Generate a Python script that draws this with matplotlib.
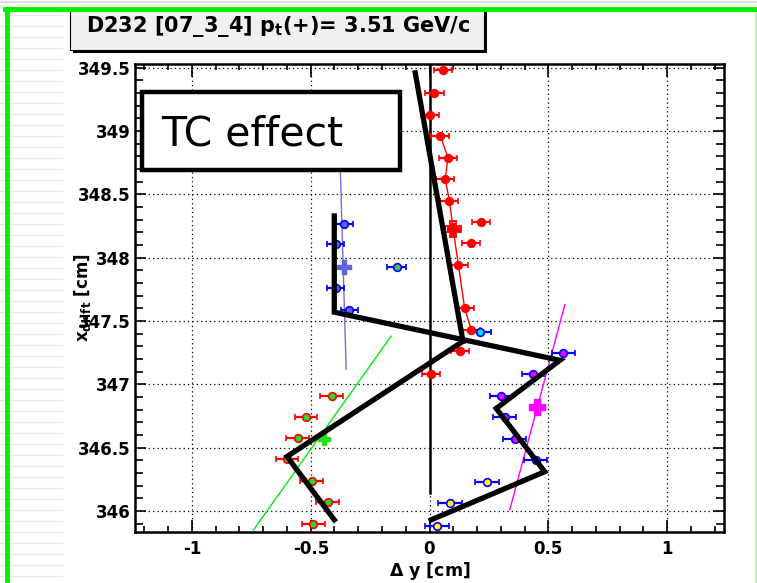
import matplotlib.pyplot as plt
from matplotlib.lines import Line2D
from matplotlib.patches import Rectangle
from matplotlib.ticker import MultipleLocator

# hits: delta y [cm] vs x_drift [cm]
red_dy = [0.056, 0.021, 0.004, 0.046, 0.078, 0.066, 0.084, 0.215, 0.176, 0.122, 0.148, 0.176, 0.127, 0.007]
red_xd = [349.48, 349.30, 349.13, 348.96, 348.79, 348.62, 348.45, 348.28, 348.12, 347.94, 347.60, 347.43, 347.26, 347.08]
red_chain_dy = [0.046, 0.078, 0.066, 0.084, 0.099, 0.122, 0.148, 0.176]
red_chain_xd = [348.96, 348.79, 348.62, 348.45, 348.23, 347.94, 347.60, 347.43]
red_mean = (0.099, 348.23)

cyan_dy = [0.214]
cyan_xd = [347.41]

magenta_dy = [0.563, 0.436, 0.302, 0.316, 0.359, 0.447]
magenta_xd = [347.25, 347.08, 346.91, 346.74, 346.57, 346.40]
magenta_mean = (0.452, 346.82)
magenta_fit_dy = [0.338, 0.570]
magenta_fit_xd = [346.01, 347.63]

yellow_dy = [0.241, 0.087, 0.032]
yellow_xd = [346.23, 346.06, 345.88]

green_dy = [-0.412, -0.520, -0.555, -0.600, -0.496, -0.429, -0.490]
green_xd = [346.91, 346.74, 346.58, 346.41, 346.24, 346.07, 345.90]
green_mean = (-0.443, 346.57)
green_fit_dy = [-0.741, -0.162]
green_fit_xd = [345.85, 347.38]

blue_dy = [-0.359, -0.394, -0.394, -0.338]
blue_xd = [348.27, 348.11, 347.76, 347.59]
blue_mean = (-0.361, 347.93)
blue_fit_dy = [-0.376, -0.351]
blue_fit_xd = [348.73, 347.12]
stray_dy = [-0.138]
stray_xd = [347.93]

zero_dy = [0.0, 0.0]
zero_xd = [349.53, 346.14]

# hand-drawn sketch over the plot
sketch_a_dy = [-0.060, 0.141]
sketch_a_xd = [349.46, 347.34]
sketch_b_dy = [-0.401, -0.401, 0.549, 0.281, 0.485, 0.007]
sketch_b_xd = [348.33, 347.57, 347.19, 346.81, 346.31, 345.93]
sketch_c_dy = [-0.401, -0.600, 0.141]
sketch_c_xd = [345.93, 346.43, 347.34]

W, H = 757, 583


def fx(px):
    return px / W


def fy(py):
    return 1 - py / H


plt.rcParams['font.family'] = 'DejaVu Sans'
fig = plt.figure(figsize=(W / 100, H / 100), dpi=100)
fig.patch.set_facecolor('white')

# page decorations
for y in range(15, H, 11):
    fig.add_artist(Line2D([fx(0), fx(62)], [fy(y), fy(y)], color='#e8e8e8', lw=1.0))
fig.add_artist(Line2D([0, 1], [fy(1.5), fy(1.5)], color='#dddddd', lw=1.5))
fig.add_artist(Line2D([fx(7), fx(7)], [fy(9), 0], color='#00ee00', lw=3.5, zorder=10))
fig.add_artist(Line2D([fx(5), 1], [fy(9), fy(9)], color='#00ee00', lw=3.5, zorder=10))
fig.add_artist(Line2D([fx(755.5), fx(755.5)], [fy(9), 0], color='#a8f0a8', lw=1.2))

ax = fig.add_axes([fx(135), fy(532), fx(724) - fx(135), fy(64) - fy(532)])
ax.set_xlim(-1.24, 1.24)
ax.set_ylim(345.834, 349.53)

ax.xaxis.set_minor_locator(MultipleLocator(0.1))
ax.yaxis.set_minor_locator(MultipleLocator(0.1))
ax.set_xticks([-1, -0.5, 0, 0.5, 1])
ax.set_xticklabels(['-1', '-0.5', '0', '0.5', '1'])
ax.set_yticks([346, 346.5, 347, 347.5, 348, 348.5, 349, 349.5])
ax.set_yticklabels(['346', '346.5', '347', '347.5', '348', '348.5', '349', '349.5'])
ax.tick_params(which='both', direction='in', top=True, right=True, width=1.2)
ax.tick_params(axis='x', which='major', length=9, labelsize=12, pad=6)
ax.tick_params(axis='x', which='minor', length=4.5)
ax.tick_params(axis='y', which='major', length=8, labelsize=12, pad=3)
ax.tick_params(axis='y', which='minor', length=6)
for lab in ax.get_xticklabels() + ax.get_yticklabels():
    lab.set_fontweight('bold')
for s in ax.spines.values():
    s.set_linewidth(1.8)
ax.grid(True, which='major', color='black', linestyle=(0, (1, 2.5)), lw=0.9)
ax.set_axisbelow(True)

ax.set_xlabel(r'$\mathbf{\Delta}$ y [cm]', fontsize=12.5, fontweight='bold', labelpad=1)
ax.set_ylabel(r'x$_{\mathbf{drift}}$ [cm]', fontsize=12, fontweight='bold')
ax.yaxis.set_label_coords(-0.072, 0.5)

# fitted lines
ax.plot(blue_fit_dy, blue_fit_xd, color='#7070dd', lw=1.0, zorder=2)
ax.plot(green_fit_dy, green_fit_xd, color='#00ee00', lw=1.0, zorder=2)
ax.plot(magenta_fit_dy, magenta_fit_xd, color='#ff00ff', lw=1.0, zorder=2)
ax.plot(red_chain_dy, red_chain_xd, color='red', lw=1.0, zorder=2)
ax.plot(zero_dy, zero_xd, color='black', lw=1.8, zorder=2)

eb = dict(fmt='o', ms=5.5, elinewidth=1.6, capsize=2.5, capthick=1.6, mew=1.2, zorder=4)
ax.errorbar(red_dy, red_xd, xerr=0.038, mfc='red', mec='red', ecolor='red', **eb)
ax.errorbar(blue_dy, blue_xd, xerr=0.036, mfc='#6060d8', mec='blue', ecolor='blue', **eb)
ax.errorbar(stray_dy, stray_xd, xerr=0.04, mfc='#44cc44', mec='blue', ecolor='blue', **eb)
ax.errorbar(cyan_dy, cyan_xd, xerr=0.045, mfc='#00e0f0', mec='blue', ecolor='blue', **eb)
ax.errorbar(magenta_dy, magenta_xd, xerr=0.048, mfc='#ff00ff', mec='blue', ecolor='blue', **eb)
ax.errorbar(yellow_dy, yellow_xd, xerr=0.05, mfc='#ffff00', mec='blue', ecolor='blue', **eb)
ax.errorbar(green_dy, green_xd, xerr=0.048, mfc='#22dd22', mec='red', ecolor='red', **eb)

# segment means
ax.plot(*red_mean, marker='P', ms=12, mfc='none', mec='red', mew=1.3, zorder=5)
ax.plot(*red_mean, marker='P', ms=8, mfc='red', mec='red', zorder=5)
ax.plot(*blue_mean, marker='P', ms=10, mfc='#6060d8', mec='#6060d8', zorder=5)
ax.plot(*green_mean, marker='P', ms=9, mfc='#22dd22', mec='#22dd22', zorder=5)
ax.plot(*magenta_mean, marker='P', ms=11, mfc='#ff00ff', mec='#ff00ff', zorder=5)

# sketch
for sx, sy in [(sketch_a_dy, sketch_a_xd), (sketch_b_dy, sketch_b_xd), (sketch_c_dy, sketch_c_xd)]:
    ax.plot(sx, sy, color='black', lw=3.8, solid_joinstyle='miter', zorder=6)

# annotation box
fig.add_artist(Rectangle((fx(142), fy(170)), fx(400) - fx(142), fy(92) - fy(170),
                         facecolor='white', edgecolor='black', lw=3.2, zorder=7))
fig.text(fx(161), fy(145), 'TC effect', fontsize=29.5, va='baseline', ha='left', zorder=8)

# title box
fig.add_artist(Rectangle((fx(73), fy(53)), fx(487) - fx(73), fy(11) - fy(53),
                         facecolor='black', edgecolor='none', zorder=7))
fig.add_artist(Rectangle((fx(70), fy(50)), fx(484) - fx(70), fy(10) - fy(50),
                         facecolor='#f0f0f0', edgecolor='black', lw=0.8, zorder=8))
fig.text(fx(86), fy(32), r'D232 [07_3_4] p$_{\mathbf{t}}$(+)= 3.51 GeV/c', fontsize=15,
         fontweight='bold', va='baseline', ha='left', zorder=9)

plt.savefig('out.png', dpi=100)
